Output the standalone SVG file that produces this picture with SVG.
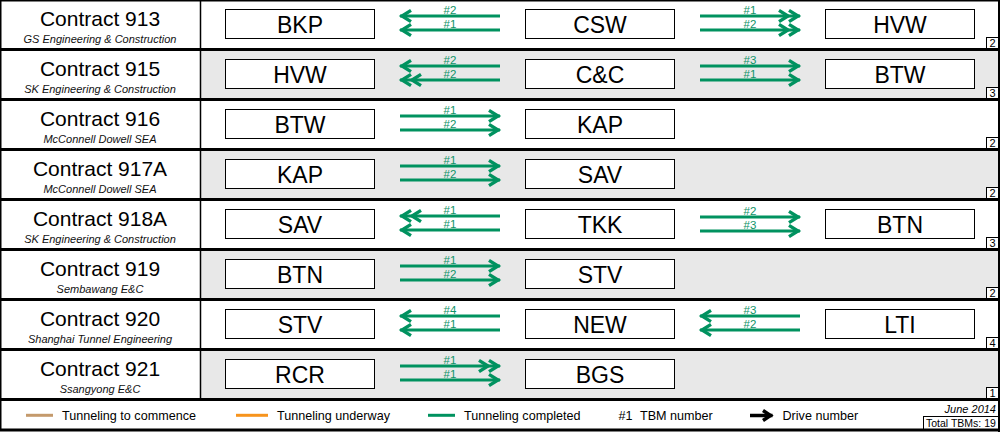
<svg xmlns="http://www.w3.org/2000/svg" width="1000" height="432" viewBox="0 0 1000 432">
<style>
.sh{fill:#e8e8e8}
.sep{stroke:#000;stroke-width:3}
.box{fill:#fff;stroke:#000;stroke-width:1}
.bt{font-family:"Liberation Sans",Arial,sans-serif;font-size:23px;text-anchor:middle;fill:#000}
.ct{font-family:"Liberation Sans",Arial,sans-serif;font-size:21px;text-anchor:middle;fill:#000}
.cs{font-family:"Liberation Sans",Arial,sans-serif;font-size:11px;font-style:italic;text-anchor:middle;fill:#111}
.lb{font-family:"Liberation Sans",Arial,sans-serif;font-size:11.5px;text-anchor:middle;fill:#0f9468}
.ar{stroke:#00925f;stroke-width:3;fill:none}
.ar1{marker-end:url(#h1)}
.ar2{marker-end:url(#h2)}
.nb{fill:#fff;stroke:#000;stroke-width:1}
.nt{font-family:"Liberation Sans",Arial,sans-serif;font-size:11px;text-anchor:middle;fill:#000}
.lg{font-family:"Liberation Sans",Arial,sans-serif;font-size:12.6px;fill:#000}
</style>
<defs>
<marker id="h1" markerUnits="userSpaceOnUse" orient="auto" refX="0" refY="0" markerWidth="30" markerHeight="20" viewBox="-25 -10 30 20" overflow="visible">
<path d="M -11 -5.6 L -2 0 L -11 5.6" fill="none" stroke="#00925f" stroke-width="3.4"/>
</marker>
<marker id="h2" markerUnits="userSpaceOnUse" orient="auto" refX="0" refY="0" markerWidth="30" markerHeight="20" viewBox="-25 -10 30 20" overflow="visible">
<path d="M -11 -5.6 L -2 0 L -11 5.6 M -21 -5.6 L -12 0 L -21 5.6" fill="none" stroke="#00925f" stroke-width="3.4"/>
</marker>
<marker id="hk" markerUnits="userSpaceOnUse" orient="auto" refX="0" refY="0" markerWidth="30" markerHeight="20" viewBox="-25 -10 30 20" overflow="visible">
<path d="M -9.5 -5 L -2 0 L -9.5 5" fill="none" stroke="#000" stroke-width="3.5"/>
</marker>
</defs>
<rect x="0" y="0" width="1000" height="432" fill="#fff"/>
<g id="shading">
<rect class="sh" x="201" y="51" width="797" height="47"/>
<rect class="sh" x="201" y="151" width="797" height="47"/>
<rect class="sh" x="201" y="251" width="797" height="47"/>
<rect class="sh" x="201" y="351" width="797" height="47"/>
</g>
<g id="grid">
<line x1="200.5" y1="0" x2="200.5" y2="400" stroke="#000" stroke-width="1.5"/>
<line class="sep" x1="0" y1="49.5" x2="1000" y2="49.5"/>
<line class="sep" x1="0" y1="99.5" x2="1000" y2="99.5"/>
<line class="sep" x1="0" y1="149.5" x2="1000" y2="149.5"/>
<line class="sep" x1="0" y1="199.5" x2="1000" y2="199.5"/>
<line class="sep" x1="0" y1="249.5" x2="1000" y2="249.5"/>
<line class="sep" x1="0" y1="299.5" x2="1000" y2="299.5"/>
<line class="sep" x1="0" y1="349.5" x2="1000" y2="349.5"/>
<line class="sep" x1="0" y1="399.5" x2="1000" y2="399.5"/>
<line class="sep" x1="0" y1="430" x2="1000" y2="430"/>
<rect x="0.75" y="0.75" width="998.3" height="429" fill="none" stroke="#000" stroke-width="1.5"/>
<line x1="999" y1="0" x2="999" y2="432" stroke="#000" stroke-width="2"/>
</g>
<g id="contract-913"><text class="ct" x="100" y="26">Contract 913</text><text class="cs" x="100" y="42.5">GS Engineering &amp; Construction</text></g>
<g id="contract-915"><text class="ct" x="100" y="76">Contract 915</text><text class="cs" x="100" y="92.5">SK Engineering &amp; Construction</text></g>
<g id="contract-916"><text class="ct" x="100" y="126">Contract 916</text><text class="cs" x="100" y="142.5">McConnell Dowell SEA</text></g>
<g id="contract-917A"><text class="ct" x="100" y="176">Contract 917A</text><text class="cs" x="100" y="192.5">McConnell Dowell SEA</text></g>
<g id="contract-918A"><text class="ct" x="100" y="226">Contract 918A</text><text class="cs" x="100" y="242.5">SK Engineering &amp; Construction</text></g>
<g id="contract-919"><text class="ct" x="100" y="276">Contract 919</text><text class="cs" x="100" y="292.5">Sembawang E&amp;C</text></g>
<g id="contract-920"><text class="ct" x="100" y="326">Contract 920</text><text class="cs" x="100" y="342.5">Shanghai Tunnel Engineering</text></g>
<g id="contract-921"><text class="ct" x="100" y="376">Contract 921</text><text class="cs" x="100" y="392.5">Ssangyong E&amp;C</text></g>
<g id="r1-BKP"><rect class="box" x="225.5" y="9.5" width="149" height="29"/><text class="bt" x="300" y="32.5">BKP</text></g>
<g id="r1-CSW"><rect class="box" x="525.5" y="9.5" width="149" height="29"/><text class="bt" x="600" y="32.5">CSW</text></g>
<g id="r1-HVW"><rect class="box" x="825.5" y="9.5" width="149" height="29"/><text class="bt" x="900" y="32.5">HVW</text></g>
<g id="r2-HVW"><rect class="box" x="225.5" y="59.5" width="149" height="29"/><text class="bt" x="300" y="82.5">HVW</text></g>
<g id="r2-CC"><rect class="box" x="525.5" y="59.5" width="149" height="29"/><text class="bt" x="600" y="82.5">C&amp;C</text></g>
<g id="r2-BTW"><rect class="box" x="825.5" y="59.5" width="149" height="29"/><text class="bt" x="900" y="82.5">BTW</text></g>
<g id="r3-BTW"><rect class="box" x="225.5" y="109.5" width="149" height="29"/><text class="bt" x="300" y="132.5">BTW</text></g>
<g id="r3-KAP"><rect class="box" x="525.5" y="109.5" width="149" height="29"/><text class="bt" x="600" y="132.5">KAP</text></g>
<g id="r4-KAP"><rect class="box" x="225.5" y="159.5" width="149" height="29"/><text class="bt" x="300" y="182.5">KAP</text></g>
<g id="r4-SAV"><rect class="box" x="525.5" y="159.5" width="149" height="29"/><text class="bt" x="600" y="182.5">SAV</text></g>
<g id="r5-SAV"><rect class="box" x="225.5" y="209.5" width="149" height="29"/><text class="bt" x="300" y="232.5">SAV</text></g>
<g id="r5-TKK"><rect class="box" x="525.5" y="209.5" width="149" height="29"/><text class="bt" x="600" y="232.5">TKK</text></g>
<g id="r5-BTN"><rect class="box" x="825.5" y="209.5" width="149" height="29"/><text class="bt" x="900" y="232.5">BTN</text></g>
<g id="r6-BTN"><rect class="box" x="225.5" y="259.5" width="149" height="29"/><text class="bt" x="300" y="282.5">BTN</text></g>
<g id="r6-STV"><rect class="box" x="525.5" y="259.5" width="149" height="29"/><text class="bt" x="600" y="282.5">STV</text></g>
<g id="r7-STV"><rect class="box" x="225.5" y="309.5" width="149" height="29"/><text class="bt" x="300" y="332.5">STV</text></g>
<g id="r7-NEW"><rect class="box" x="525.5" y="309.5" width="149" height="29"/><text class="bt" x="600" y="332.5">NEW</text></g>
<g id="r7-LTI"><rect class="box" x="825.5" y="309.5" width="149" height="29"/><text class="bt" x="900" y="332.5">LTI</text></g>
<g id="r8-RCR"><rect class="box" x="225.5" y="359.5" width="149" height="29"/><text class="bt" x="300" y="382.5">RCR</text></g>
<g id="r8-BGS"><rect class="box" x="525.5" y="359.5" width="149" height="29"/><text class="bt" x="600" y="382.5">BGS</text></g>
<g id="counts">
<rect class="nb" x="986.5" y="37.5" width="12" height="11"/><text class="nt" x="992.5" y="46.5">2</text>
<rect class="nb" x="986.5" y="87.5" width="12" height="11"/><text class="nt" x="992.5" y="96.5">3</text>
<rect class="nb" x="986.5" y="137.5" width="12" height="11"/><text class="nt" x="992.5" y="146.5">2</text>
<rect class="nb" x="986.5" y="187.5" width="12" height="11"/><text class="nt" x="992.5" y="196.5">2</text>
<rect class="nb" x="986.5" y="237.5" width="12" height="11"/><text class="nt" x="992.5" y="246.5">3</text>
<rect class="nb" x="986.5" y="287.5" width="12" height="11"/><text class="nt" x="992.5" y="296.5">2</text>
<rect class="nb" x="986.5" y="337.5" width="12" height="11"/><text class="nt" x="992.5" y="346.5">4</text>
<rect class="nb" x="986.5" y="387.5" width="12" height="11"/><text class="nt" x="992.5" y="396.5">1</text>
</g>
<g id="connectors">
<line class="ar ar1" x1="500" y1="16" x2="400" y2="16"/><text class="lb" x="450" y="14">#2</text>
<line class="ar ar1" x1="500" y1="30" x2="400" y2="30"/><text class="lb" x="450" y="28">#1</text>
<line class="ar ar2" x1="700" y1="16" x2="800" y2="16"/><text class="lb" x="750" y="14">#1</text>
<line class="ar ar2" x1="700" y1="30" x2="800" y2="30"/><text class="lb" x="750" y="28">#2</text>
<line class="ar ar1" x1="500" y1="66" x2="400" y2="66"/><text class="lb" x="450" y="64">#2</text>
<line class="ar ar2" x1="500" y1="80" x2="400" y2="80"/><text class="lb" x="450" y="78">#2</text>
<line class="ar ar1" x1="700" y1="66" x2="800" y2="66"/><text class="lb" x="750" y="64">#3</text>
<line class="ar ar1" x1="700" y1="80" x2="800" y2="80"/><text class="lb" x="750" y="78">#1</text>
<line class="ar ar1" x1="400" y1="116" x2="500" y2="116"/><text class="lb" x="450" y="114">#1</text>
<line class="ar ar1" x1="400" y1="130" x2="500" y2="130"/><text class="lb" x="450" y="128">#2</text>
<line class="ar ar1" x1="400" y1="166" x2="500" y2="166"/><text class="lb" x="450" y="164">#1</text>
<line class="ar ar1" x1="400" y1="180" x2="500" y2="180"/><text class="lb" x="450" y="178">#2</text>
<line class="ar ar2" x1="500" y1="216" x2="400" y2="216"/><text class="lb" x="450" y="214">#1</text>
<line class="ar ar1" x1="500" y1="230" x2="400" y2="230"/><text class="lb" x="450" y="228">#1</text>
<line class="ar ar1" x1="700" y1="217" x2="800" y2="217"/><text class="lb" x="750" y="215">#2</text>
<line class="ar ar1" x1="700" y1="231" x2="800" y2="231"/><text class="lb" x="750" y="229">#3</text>
<line class="ar ar1" x1="400" y1="266" x2="500" y2="266"/><text class="lb" x="450" y="264">#1</text>
<line class="ar ar1" x1="400" y1="280" x2="500" y2="280"/><text class="lb" x="450" y="278">#2</text>
<line class="ar ar1" x1="500" y1="316" x2="400" y2="316"/><text class="lb" x="450" y="314">#4</text>
<line class="ar ar1" x1="500" y1="330" x2="400" y2="330"/><text class="lb" x="450" y="328">#1</text>
<line class="ar ar1" x1="800" y1="316" x2="700" y2="316"/><text class="lb" x="750" y="314">#3</text>
<line class="ar ar1" x1="800" y1="330" x2="700" y2="330"/><text class="lb" x="750" y="328">#2</text>
<line class="ar ar2" x1="400" y1="366" x2="500" y2="366"/><text class="lb" x="450" y="364">#1</text>
<line class="ar ar1" x1="400" y1="380" x2="500" y2="380"/><text class="lb" x="450" y="378">#1</text>
</g>
<g id="legend">
<line x1="26" y1="415.3" x2="53" y2="415.3" stroke="#c49a6c" stroke-width="3"/>
<text class="lg" x="62" y="419.5">Tunneling to commence</text>
<line x1="236" y1="415.3" x2="268" y2="415.3" stroke="#f7941d" stroke-width="3"/>
<text class="lg" x="277" y="419.5">Tunneling underway</text>
<line x1="428" y1="415.3" x2="455" y2="415.3" stroke="#00925f" stroke-width="3"/>
<text class="lg" x="464" y="419.5">Tunneling completed</text>
<text class="lg" x="618.5" y="419.5">#1</text>
<text class="lg" x="640" y="419.5">TBM number</text>
<line x1="750" y1="415.5" x2="772.5" y2="415.5" stroke="#000" stroke-width="3.5" marker-end="url(#hk)"/>
<text class="lg" x="782.5" y="419.5">Drive number</text>
<text x="996" y="412.5" font-family="Liberation Sans, Arial, sans-serif" font-size="11" font-style="italic" text-anchor="end">June 2014</text>
<rect x="923.5" y="416.5" width="75" height="12.5" fill="#fff" stroke="#000" stroke-width="1"/>
<text x="926" y="427" font-family="Liberation Sans, Arial, sans-serif" font-size="10.5">Total TBMs: 19</text>
</g>
</svg>
